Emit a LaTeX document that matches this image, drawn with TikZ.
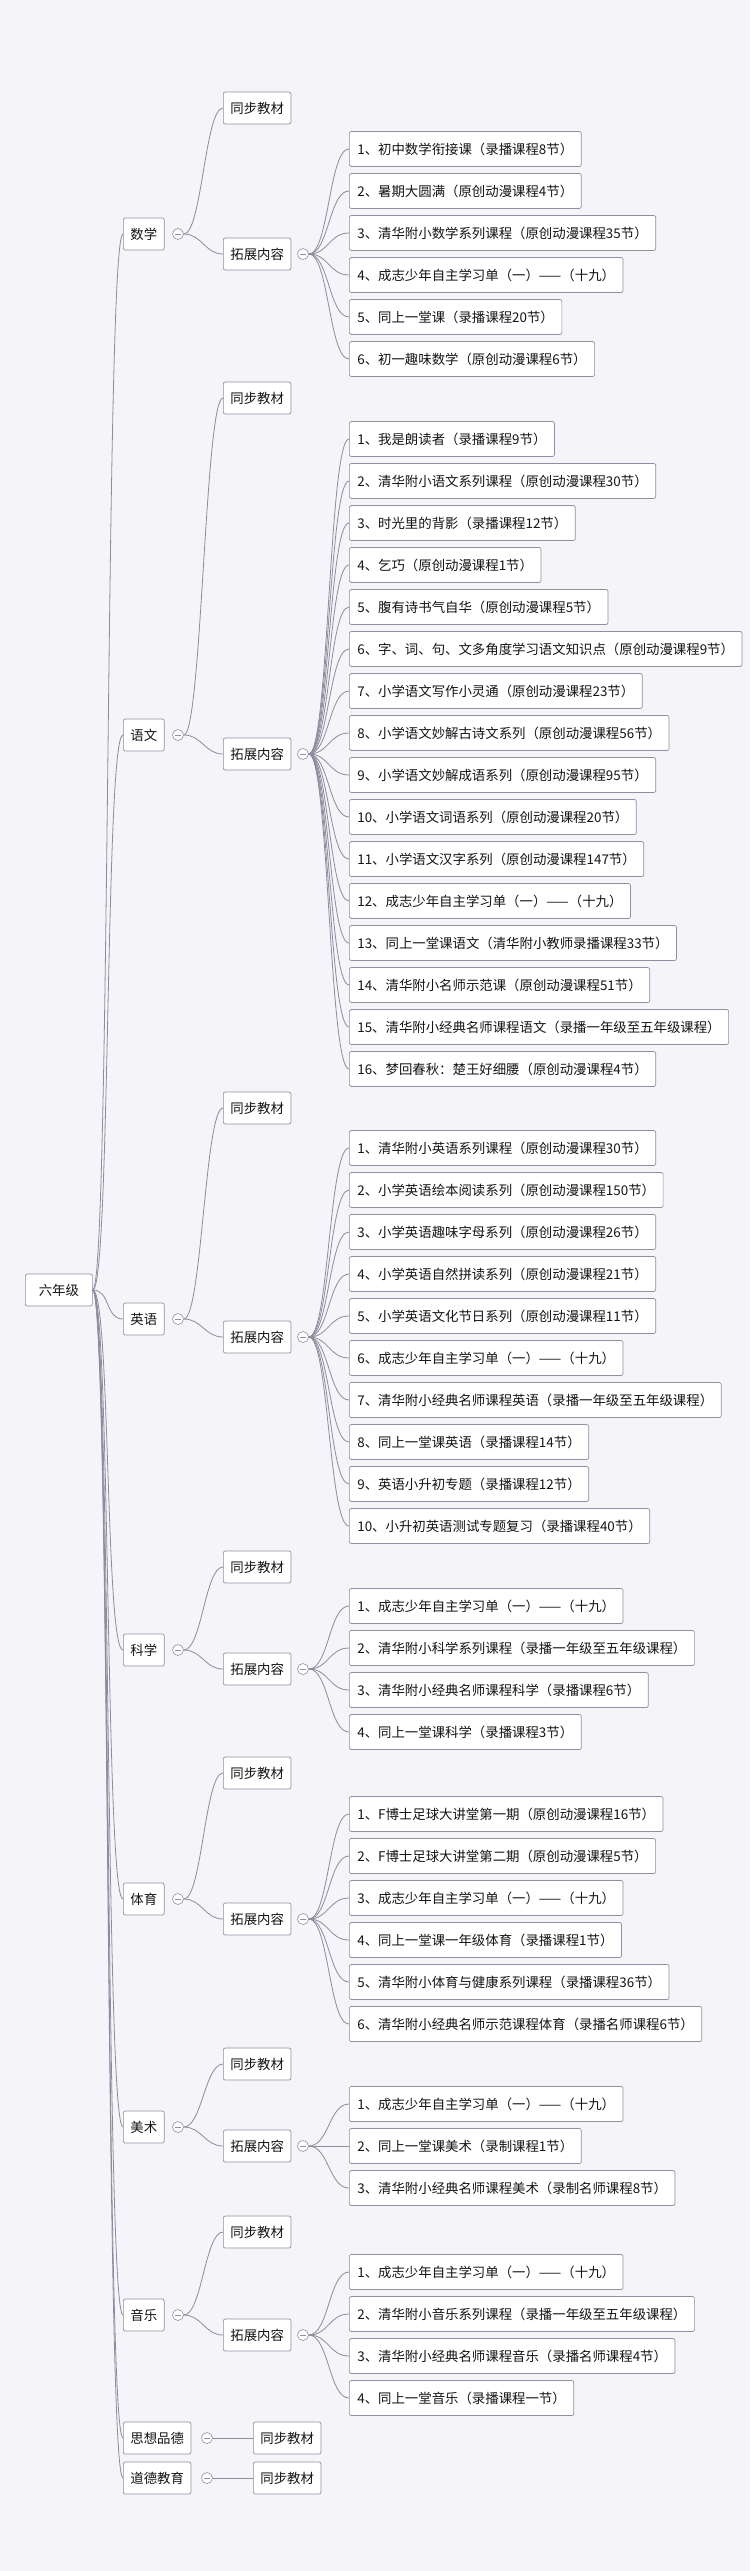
\documentclass[tikz,border=0pt]{standalone}
\usepackage{fontspec}
\setmainfont{Noto Sans CJK SC}
\definecolor{bg}{HTML}{F4F4F9}
\definecolor{bd}{HTML}{8F8FA0}
\definecolor{ln}{HTML}{8C8C9C}
\tikzset{
 box/.style={draw=bd,fill=white,rounded corners=2pt,line width=0.7pt,anchor=west,font=\fontsize{13.4}{13.4}\selectfont,text=black!92,inner xsep=7pt,minimum height=32pt},
 item/.style={box,minimum height=35pt,inner xsep=8pt},
 tog/.style={circle,draw=bd,fill=white,line width=0.6pt,minimum size=11pt,inner sep=0pt,
   path picture={\draw[bd,line width=0.6pt] ([xshift=-3pt]path picture bounding box.center) -- ([xshift=3pt]path picture bounding box.center);}},
 conn/.style={draw=ln,line width=0.8pt},
}
\newcommand\cn[3]{\draw[conn] (#1) .. controls +(#3pt,0pt) and +(-#3pt,0pt) .. (#2);}
\newcommand\mysubject[7]{%
 \node[box] (#1) at (123pt,-#3pt) {#2};
 \node[tog] (#1c) at (178pt,-#3pt) {};
 \node[box] (#1s) at (223pt,-#4pt) {同步教材};
 \node[box] (#1t) at (223pt,-#6pt) {拓展内容};
 \node[tog] (#1tc) at (303pt,-#6pt) {};
 \cn{root.east}{#1.west}{18}
 \cn{#1c.east}{#1s.west}{18}
 \cn{#1c.east}{#1t.west}{18}
 \foreach \t [count=\i] in {#7} {
   \pgfmathsetmacro\yy{-(#5+(\i-1)*42)}
   \node[item] (#1i\i) at (349pt,\yy pt) {\t};
   \cn{#1tc.east}{#1i\i.west}{20}
 }
}
\begin{document}
\begin{tikzpicture}
\fill[bg] (0pt,0pt) rectangle (750pt,-2571pt);
\useasboundingbox (0pt,0pt) rectangle (750pt,-2571pt);
\node[box,minimum width=67pt] (root) at (25pt,-1290pt) {六年级};
\mysubject{ma}{数学}{234}{108}{149}{254}{{1、初中数学衔接课（录播课程8节）},{2、暑期大圆满（原创动漫课程4节）},{3、清华附小数学系列课程（原创动漫课程35节）},{4、成志少年自主学习单（一）——（十九）},{5、同上一堂课（录播课程20节）},{6、初一趣味数学（原创动漫课程6节）}}
\mysubject{yw}{语文}{735}{398}{439}{754}{{1、我是朗读者（录播课程9节）},{2、清华附小语文系列课程（原创动漫课程30节）},{3、时光里的背影（录播课程12节）},{4、乞巧（原创动漫课程1节）},{5、腹有诗书气自华（原创动漫课程5节）},{6、字、词、句、文多角度学习语文知识点（原创动漫课程9节）},{7、小学语文写作小灵通（原创动漫课程23节）},{8、小学语文妙解古诗文系列（原创动漫课程56节）},{9、小学语文妙解成语系列（原创动漫课程95节）},{10、小学语文词语系列（原创动漫课程20节）},{11、小学语文汉字系列（原创动漫课程147节）},{12、成志少年自主学习单（一）——（十九）},{13、同上一堂课语文（清华附小教师录播课程33节）},{14、清华附小名师示范课（原创动漫课程51节）},{15、清华附小经典名师课程语文（录播一年级至五年级课程）},{16、梦回春秋：楚王好细腰（原创动漫课程4节）}}
\mysubject{yy}{英语}{1319}{1108}{1148}{1337}{{1、清华附小英语系列课程（原创动漫课程30节）},{2、小学英语绘本阅读系列（原创动漫课程150节）},{3、小学英语趣味字母系列（原创动漫课程26节）},{4、小学英语自然拼读系列（原创动漫课程21节）},{5、小学英语文化节日系列（原创动漫课程11节）},{6、成志少年自主学习单（一）——（十九）},{7、清华附小经典名师课程英语（录播一年级至五年级课程）},{8、同上一堂课英语（录播课程14节）},{9、英语小升初专题（录播课程12节）},{10、小升初英语测试专题复习（录播课程40节）}}
\mysubject{kx}{科学}{1650}{1567}{1606}{1669}{{1、成志少年自主学习单（一）——（十九）},{2、清华附小科学系列课程（录播一年级至五年级课程）},{3、清华附小经典名师课程科学（录播课程6节）},{4、同上一堂课科学（录播课程3节）}}
\mysubject{ty}{体育}{1899}{1773}{1814}{1919}{{1、F博士足球大讲堂第一期（原创动漫课程16节）},{2、F博士足球大讲堂第二期（原创动漫课程5节）},{3、成志少年自主学习单（一）——（十九）},{4、同上一堂课一年级体育（录播课程1节）},{5、清华附小体育与健康系列课程（录播课程36节）},{6、清华附小经典名师示范课程体育（录播名师课程6节）}}
\mysubject{ms}{美术}{2127}{2064}{2104}{2146}{{1、成志少年自主学习单（一）——（十九）},{2、同上一堂课美术（录制课程1节）},{3、清华附小经典名师课程美术（录制名师课程8节）}}
\mysubject{yl}{音乐}{2315}{2232}{2272}{2335}{{1、成志少年自主学习单（一）——（十九）},{2、清华附小音乐系列课程（录播一年级至五年级课程）},{3、清华附小经典名师课程音乐（录播名师课程4节）},{4、同上一堂音乐（录播课程一节）}}
\node[box] (sx) at (123pt,-2438pt) {思想品德};
\node[tog] (sxc) at (207pt,-2438pt) {};
\node[box] (sxs) at (253pt,-2438pt) {同步教材};
\cn{root.east}{sx.west}{18}
\draw[conn] (sxc.east) -- (sxs.west);
\node[box] (dd) at (123pt,-2478pt) {道德教育};
\node[tog] (ddc) at (207pt,-2478pt) {};
\node[box] (dds) at (253pt,-2478pt) {同步教材};
\cn{root.east}{dd.west}{18}
\draw[conn] (ddc.east) -- (dds.west);
\end{tikzpicture}
\end{document}
